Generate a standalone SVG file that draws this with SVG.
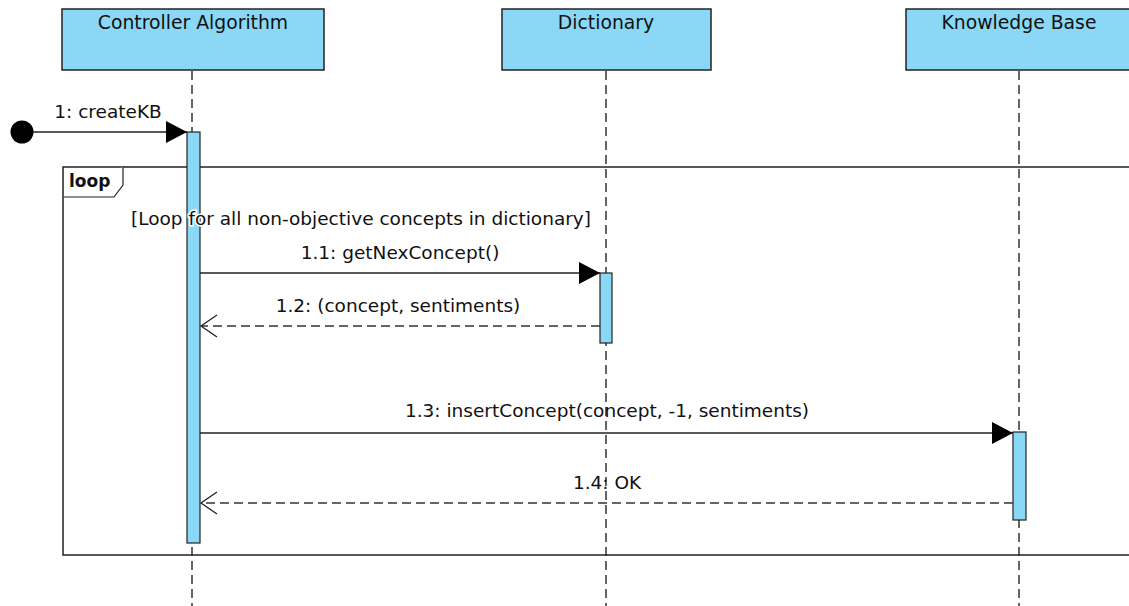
<svg xmlns="http://www.w3.org/2000/svg" width="1129" height="606" viewBox="0 0 1129 606">
<style>
.box{fill:#8AD8F6;stroke:#222;stroke-width:1.5}
.act{fill:#8AD8F6;stroke:#222;stroke-width:1.2}
.life{stroke:#333;stroke-width:1.5;stroke-dasharray:9 5;fill:none}
.msg{stroke:#222;stroke-width:1.3;fill:none}
.ret{stroke:#333;stroke-width:1.3;fill:none;stroke-dasharray:9 5}
.t{font-family:"DejaVu Sans",sans-serif;font-size:18.8px;fill:#111;text-anchor:middle}
.lbl{font-family:"DejaVu Sans",sans-serif;font-size:18.5px;fill:#111;text-anchor:middle}
</style>
<defs>
<marker id="filled" markerWidth="22" markerHeight="22" refX="21" refY="11" orient="auto" markerUnits="userSpaceOnUse">
<path d="M0,0 L21,11 L0,22 Z" fill="#000"/>
</marker>
<marker id="open" markerWidth="20" markerHeight="24" refX="17" refY="12" orient="auto" markerUnits="userSpaceOnUse">
<path d="M1,1 L17,12 L1,23" fill="none" stroke="#222" stroke-width="1.3"/>
</marker>
</defs>
<rect width="1129" height="606" fill="#fff"/>
<g id="lifelines">
<line class="life" x1="192" y1="71" x2="192" y2="606"/>
<line class="life" x1="606" y1="71" x2="606" y2="606"/>
<line class="life" x1="1019" y1="71" x2="1019" y2="606"/>
</g>
<g id="loop-frame">
<rect x="63" y="167" width="1080" height="388" fill="none" stroke="#222" stroke-width="1.5"/>
<path d="M63,197 L114,197 L123,185 L123,167" fill="#fff" stroke="#222" stroke-width="1.2"/>
<text x="69" y="187" style="font-family:'DejaVu Sans',sans-serif;font-size:17px;font-weight:bold;fill:#111">loop</text>
</g>
<g id="controller">
<rect class="box" x="62" y="9" width="262" height="61"/>
<text class="t" x="193" y="29">Controller Algorithm</text>
</g>
<g id="dictionary">
<rect class="box" x="502" y="9" width="209" height="61"/>
<text class="t" x="606" y="29">Dictionary</text>
</g>
<g id="knowledge-base">
<rect class="box" x="906" y="9" width="240" height="61"/>
<text class="t" x="1019" y="29">Knowledge Base</text>
</g>
<g id="start">
<circle cx="22" cy="132" r="11.5" fill="#000"/>
</g>
<g id="activations">
<rect class="act" x="187" y="132" width="13" height="411"/>
<rect class="act" x="600" y="273" width="12" height="70"/>
<rect class="act" x="1013" y="432" width="13" height="88"/>
</g>
<g id="guard">
<text class="lbl" x="361" y="225" style="paint-order:stroke;stroke:#fff;stroke-width:3">[Loop for all non-objective concepts in dictionary]</text>
</g>
<g id="connectors">
<line class="msg" x1="33" y1="132" x2="187" y2="132" marker-end="url(#filled)"/>
<text class="lbl" x="108" y="118">1: createKB</text>
<line class="msg" x1="200" y1="273" x2="600" y2="273" marker-end="url(#filled)"/>
<text class="lbl" x="400" y="259">1.1: getNexConcept()</text>
<line class="ret" x1="600" y1="326" x2="201" y2="326" marker-end="url(#open)"/>
<text class="lbl" x="398" y="312">1.2: (concept, sentiments)</text>
<line class="msg" x1="200" y1="433" x2="1013" y2="433" marker-end="url(#filled)"/>
<text class="lbl" x="607" y="417">1.3: insertConcept(concept, -1, sentiments)</text>
<line class="ret" x1="1013" y1="503" x2="201" y2="503" marker-end="url(#open)"/>
<text class="lbl" x="607" y="489">1.4: OK</text>
</g>
</svg>
